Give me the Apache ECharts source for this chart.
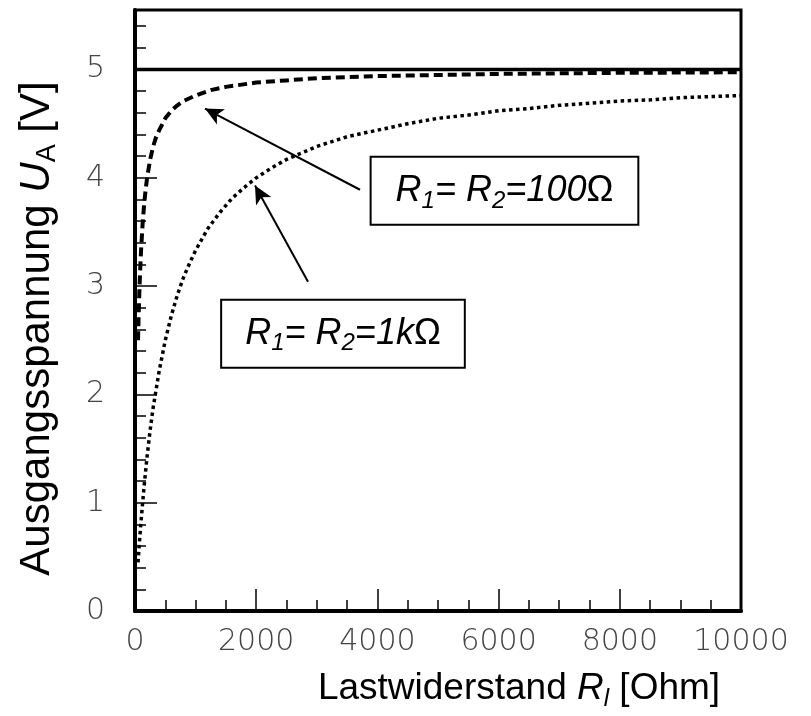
<!DOCTYPE html>
<html>
<head>
<meta charset="utf-8">
<script src="https://cdn.jsdelivr.net/npm/echarts@6/dist/echarts.min.js"></script>
<style>
  html, body { margin: 0; padding: 0; background: #fff; }
  #chart { width: 811px; height: 716px; }
</style>
</head>
<body>
<div id="chart"></div>
<script>
// R1 = R2 = 100 Ohm
const rl100 = [50, 60, 75, 90, 100, 125, 150, 175, 200, 250, 300, 350, 400, 500, 600, 700, 800, 1000, 1250, 1500, 2000, 2500, 3000, 4000, 5000, 6000, 7000, 8000, 9000, 10000]
const ua100 = [2.5, 2.73, 3.0, 3.21, 3.33, 3.57, 3.75, 3.89, 4.0, 4.17, 4.29, 4.38, 4.44, 4.55, 4.62, 4.67, 4.71, 4.76, 4.81, 4.84, 4.88, 4.9, 4.92, 4.94, 4.95, 4.96, 4.965, 4.97, 4.972, 4.975]
// R1 = R2 = 1 kOhm
const rl1k = [50, 75, 100, 150, 200, 250, 300, 400, 500, 600, 700, 800, 900, 1000, 1200, 1400, 1600, 1800, 2000, 2250, 2500, 2750, 3000, 3500, 4000, 4500, 5000, 5500, 6000, 6500, 7000, 7500, 8000, 8500, 9000, 9500, 10000]
const ua1k = [0.45, 0.65, 0.83, 1.15, 1.43, 1.67, 1.88, 2.22, 2.5, 2.73, 2.92, 3.08, 3.21, 3.33, 3.53, 3.68, 3.81, 3.91, 4.0, 4.09, 4.17, 4.23, 4.29, 4.38, 4.44, 4.5, 4.55, 4.58, 4.62, 4.64, 4.67, 4.69, 4.71, 4.72, 4.74, 4.75, 4.76]
// limit line
const limitX = [0, 10000]
const limitY = [5, 5]

const xTicks = [0, 2000, 4000, 6000, 8000, 10000]
const yTicks = [0, 1, 2, 3, 4, 5]

// annotation anchors (data coords)
const box100 = [6097, 3.88]
const box1k = [3432, 2.56]
const arrow100 = [[3713, 3.89], [1155, 4.64]]
const arrow1k = [[2855, 3.04], [1980, 3.93]]

const pairs = (xs, ys) => xs.map((x, i) => [x, ys[i]])

let chart = echarts.init(document.getElementById("chart"))

const tickFont = {
  fontFamily: "DejaVu Sans",
  fontWeight: 200,
  fontSize: 30,
  color: "#444"
}

const boxRich = {
  i: { fontFamily: "Liberation Sans", fontStyle: "italic", fontSize: 36, color: "#000", lineHeight: 44 },
  s: { fontFamily: "Liberation Sans", fontStyle: "italic", fontSize: 24, color: "#000", lineHeight: 20, verticalAlign: "bottom" },
  n: { fontFamily: "Liberation Sans", fontSize: 36, color: "#000", lineHeight: 44 }
}

function box(coord, text, padX) {
  return {
    coord: coord,
    symbol: "circle",
    symbolSize: 1,
    itemStyle: { color: "rgba(0,0,0,0)" },
    label: {
      show: true,
      position: "inside",
      formatter: text,
      rich: boxRich,
      backgroundColor: "#fff",
      borderColor: "#000",
      borderWidth: 2,
      padding: [11, padX, 11, padX]
    }
  }
}

chart.setOption({
  animation: false,
  grid: {
    left: 135,
    right: 70,
    top: 10,
    bottom: 102,
    show: true,
    borderColor: "#000",
    borderWidth: 3
  },
  xAxis: {
    type: "value",
    min: xTicks[0],
    max: xTicks[xTicks.length - 1],
    interval: 2000,
    name: "Lastwiderstand {i|R}{s|l} [Ohm]",
    nameLocation: "middle",
    nameGap: 56,
    nameTextStyle: {
      fontFamily: "Liberation Sans",
      fontSize: 37,
      color: "#000",
      padding: [0, 0, 0, 162],
      rich: {
        i: { fontFamily: "Liberation Sans", fontStyle: "italic", fontSize: 37, color: "#000", lineHeight: 44 },
        s: { fontFamily: "Liberation Sans", fontStyle: "italic", fontSize: 24, color: "#000", lineHeight: 20, verticalAlign: "bottom" }
      }
    },
    axisLine: { lineStyle: { color: "#000", width: 4 } },
    axisTick: { inside: true, length: 22, lineStyle: { color: "#000", width: 1.5 } },
    minorTick: { show: true, splitNumber: 4, length: 11, lineStyle: { color: "#000", width: 1.5 } },
    axisLabel: Object.assign({ margin: 16, formatter: (v) => String(v) }, tickFont),
    splitLine: { show: false }
  },
  yAxis: [
    {
      type: "value",
      min: yTicks[0],
      max: 5.55,
      interval: 1,
      position: "left",
      name: "Ausgangsspannung {i|U}{s|A} [V]",
      nameLocation: "middle",
      nameGap: 74,
      nameTextStyle: {
        fontFamily: "Liberation Sans",
        fontSize: 42,
        color: "#000",
        padding: [0, 36, 0, 0],
        rich: {
          i: { fontFamily: "Liberation Sans", fontStyle: "italic", fontSize: 42, color: "#000", lineHeight: 48 },
          s: { fontFamily: "Liberation Sans", fontSize: 27, color: "#000", lineHeight: 18, verticalAlign: "bottom" }
        }
      },
      axisLine: { show: true, lineStyle: { color: "#000", width: 4 } },
      axisTick: { inside: true, length: 22, lineStyle: { color: "#000", width: 1.5 } },
      axisLabel: Object.assign({
        margin: 30,
        formatter: (v) => (yTicks.indexOf(v) >= 0 ? String(v) : "")
      }, tickFont),
      splitLine: { show: false }
    },
    {
      type: "value",
      min: yTicks[0],
      max: 5.55,
      interval: 0.2,
      position: "left",
      axisLine: { show: false },
      axisTick: { inside: true, length: 11, lineStyle: { color: "#000", width: 1.5 } },
      axisLabel: { show: false },
      splitLine: { show: false }
    }
  ],
  series: [
    {
      type: "line",
      data: pairs(limitX, limitY),
      symbol: "none",
      lineStyle: { color: "#000", width: 3.5 },
      z: 3,
      markPoint: {
        silent: true,
        z: 10,
        data: [
          box(box100, "{i|R}{s|1}{i|= R}{s|2}{i|=100}{n|Ω}", 24),
          box(box1k, "{i|R}{s|1}{i|= R}{s|2}{i|=1k}{n|Ω}", 23)
        ]
      },
      markLine: {
        silent: true,
        symbol: ["none", "arrow"],
        symbolSize: [13, 18],
        label: { show: false },
        lineStyle: { color: "#000", width: 2, type: "solid" },
        data: [
          [{ coord: arrow100[0] }, { coord: arrow100[1] }],
          [{ coord: arrow1k[0] }, { coord: arrow1k[1] }]
        ]
      }
    },
    {
      type: "line",
      data: pairs(rl100, ua100),
      symbol: "none",
      lineStyle: { color: "#000", width: 4, type: [9, 5] }
    },
    {
      type: "line",
      data: pairs(rl1k, ua1k),
      symbol: "none",
      lineStyle: { color: "#000", width: 3.5, type: [3.5, 3.5] }
    }
  ]
})
</script>
</body>
</html>
